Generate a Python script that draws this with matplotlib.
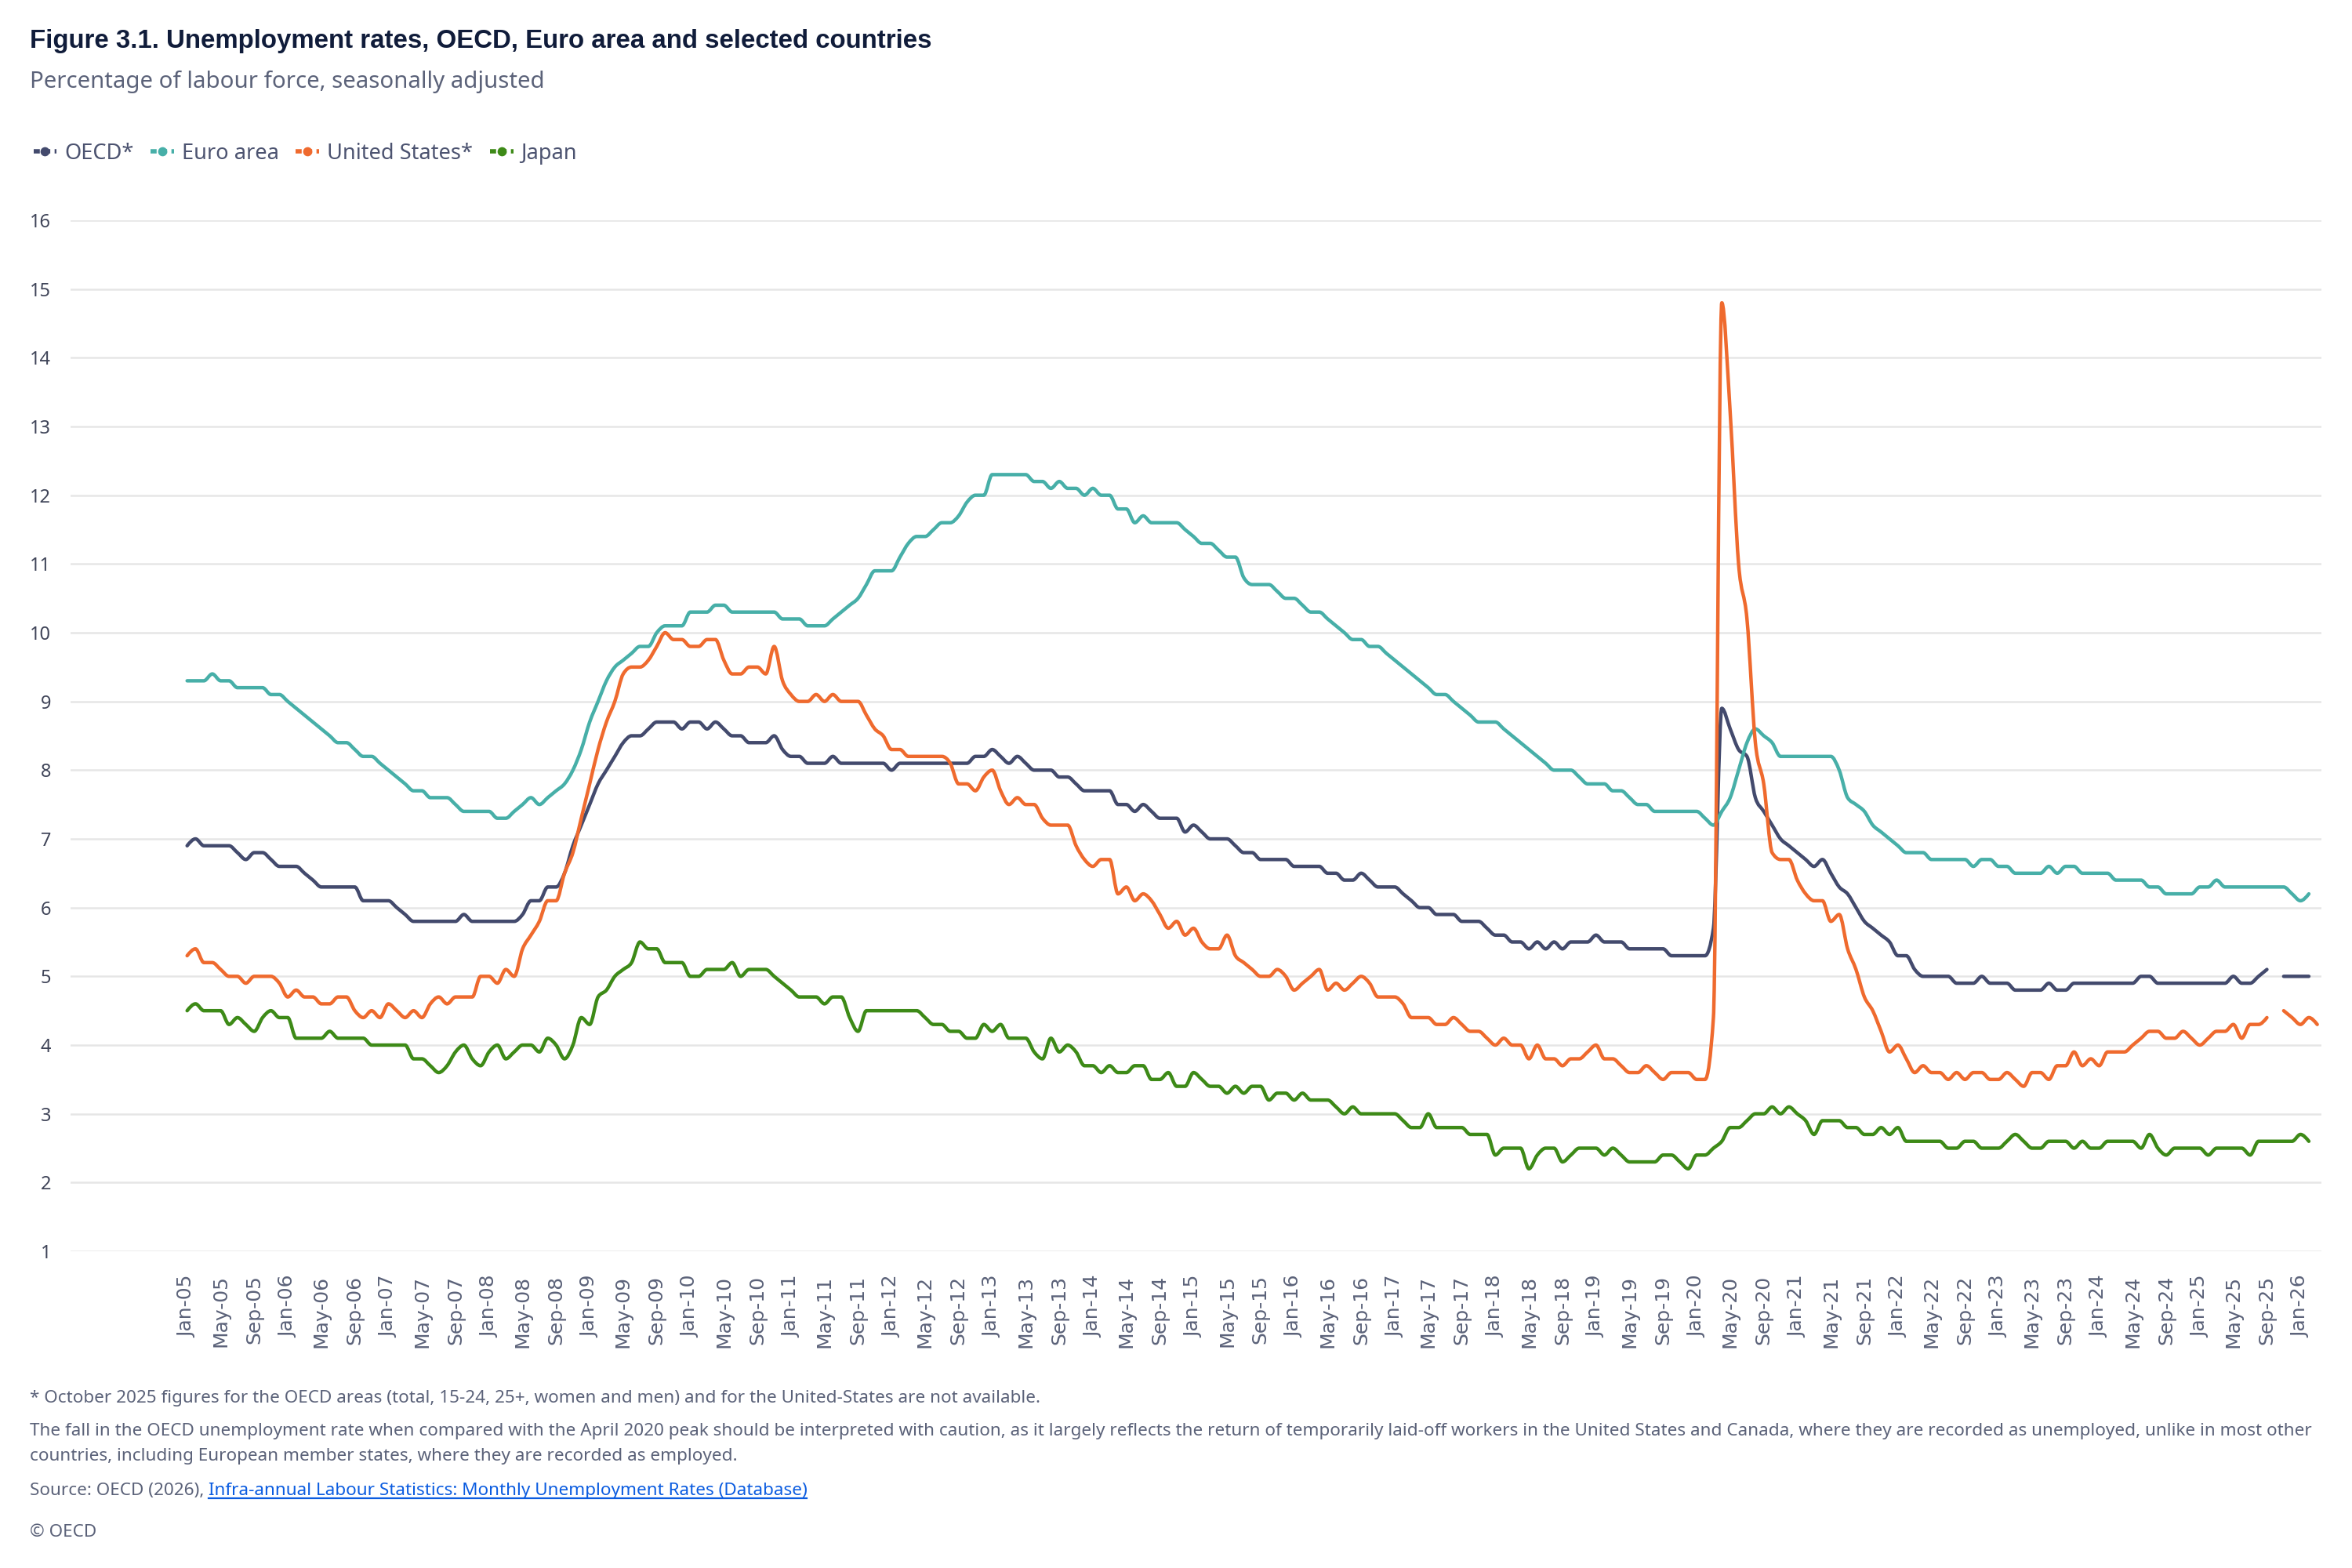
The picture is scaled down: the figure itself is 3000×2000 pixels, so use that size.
import numpy as np
import pandas as pd
import matplotlib
matplotlib.use("Agg")
import matplotlib.pyplot as plt
from matplotlib.lines import Line2D
from matplotlib.path import Path
from matplotlib.patches import PathPatch

nan = np.nan

# monthly categories, Jan-05 .. Mar-26
months = pd.date_range("2005-01-01", "2026-03-01", freq="MS")
month_labels = [d.strftime("%b-%y") for d in months]

# unemployment rates, % of labour force (one row per year)
oecd = [
    6.9, 7.0, 6.9, 6.9, 6.9, 6.9, 6.8, 6.7, 6.8, 6.8, 6.7, 6.6,
    6.6, 6.6, 6.5, 6.4, 6.3, 6.3, 6.3, 6.3, 6.3, 6.1, 6.1, 6.1,
    6.1, 6.0, 5.9, 5.8, 5.8, 5.8, 5.8, 5.8, 5.8, 5.9, 5.8, 5.8,
    5.8, 5.8, 5.8, 5.8, 5.9, 6.1, 6.1, 6.3, 6.3, 6.5, 6.9, 7.2,
    7.5, 7.8, 8.0, 8.2, 8.4, 8.5, 8.5, 8.6, 8.7, 8.7, 8.7, 8.6,
    8.7, 8.7, 8.6, 8.7, 8.6, 8.5, 8.5, 8.4, 8.4, 8.4, 8.5, 8.3,
    8.2, 8.2, 8.1, 8.1, 8.1, 8.2, 8.1, 8.1, 8.1, 8.1, 8.1, 8.1,
    8.0, 8.1, 8.1, 8.1, 8.1, 8.1, 8.1, 8.1, 8.1, 8.1, 8.2, 8.2,
    8.3, 8.2, 8.1, 8.2, 8.1, 8.0, 8.0, 8.0, 7.9, 7.9, 7.8, 7.7,
    7.7, 7.7, 7.7, 7.5, 7.5, 7.4, 7.5, 7.4, 7.3, 7.3, 7.3, 7.1,
    7.2, 7.1, 7.0, 7.0, 7.0, 6.9, 6.8, 6.8, 6.7, 6.7, 6.7, 6.7,
    6.6, 6.6, 6.6, 6.6, 6.5, 6.5, 6.4, 6.4, 6.5, 6.4, 6.3, 6.3,
    6.3, 6.2, 6.1, 6.0, 6.0, 5.9, 5.9, 5.9, 5.8, 5.8, 5.8, 5.7,
    5.6, 5.6, 5.5, 5.5, 5.4, 5.5, 5.4, 5.5, 5.4, 5.5, 5.5, 5.5,
    5.6, 5.5, 5.5, 5.5, 5.4, 5.4, 5.4, 5.4, 5.4, 5.3, 5.3, 5.3,
    5.3, 5.3, 5.7, 8.9, 8.6, 8.3, 8.2, 7.6, 7.4, 7.2, 7.0, 6.9,
    6.8, 6.7, 6.6, 6.7, 6.5, 6.3, 6.2, 6.0, 5.8, 5.7, 5.6, 5.5,
    5.3, 5.3, 5.1, 5.0, 5.0, 5.0, 5.0, 4.9, 4.9, 4.9, 5.0, 4.9,
    4.9, 4.9, 4.8, 4.8, 4.8, 4.8, 4.9, 4.8, 4.8, 4.9, 4.9, 4.9,
    4.9, 4.9, 4.9, 4.9, 4.9, 5.0, 5.0, 4.9, 4.9, 4.9, 4.9, 4.9,
    4.9, 4.9, 4.9, 4.9, 5.0, 4.9, 4.9, 5.0, 5.1, nan, 5.0, 5.0,
    5.0, 5.0,
]

euro_area = [
    9.3, 9.3, 9.3, 9.4, 9.3, 9.3, 9.2, 9.2, 9.2, 9.2, 9.1, 9.1,
    9.0, 8.9, 8.8, 8.7, 8.6, 8.5, 8.4, 8.4, 8.3, 8.2, 8.2, 8.1,
    8.0, 7.9, 7.8, 7.7, 7.7, 7.6, 7.6, 7.6, 7.5, 7.4, 7.4, 7.4,
    7.4, 7.3, 7.3, 7.4, 7.5, 7.6, 7.5, 7.6, 7.7, 7.8, 8.0, 8.3,
    8.7, 9.0, 9.3, 9.5, 9.6, 9.7, 9.8, 9.8, 10.0, 10.1, 10.1, 10.1,
    10.3, 10.3, 10.3, 10.4, 10.4, 10.3, 10.3, 10.3, 10.3, 10.3, 10.3, 10.2,
    10.2, 10.2, 10.1, 10.1, 10.1, 10.2, 10.3, 10.4, 10.5, 10.7, 10.9, 10.9,
    10.9, 11.1, 11.3, 11.4, 11.4, 11.5, 11.6, 11.6, 11.7, 11.9, 12.0, 12.0,
    12.3, 12.3, 12.3, 12.3, 12.3, 12.2, 12.2, 12.1, 12.2, 12.1, 12.1, 12.0,
    12.1, 12.0, 12.0, 11.8, 11.8, 11.6, 11.7, 11.6, 11.6, 11.6, 11.6, 11.5,
    11.4, 11.3, 11.3, 11.2, 11.1, 11.1, 10.8, 10.7, 10.7, 10.7, 10.6, 10.5,
    10.5, 10.4, 10.3, 10.3, 10.2, 10.1, 10.0, 9.9, 9.9, 9.8, 9.8, 9.7,
    9.6, 9.5, 9.4, 9.3, 9.2, 9.1, 9.1, 9.0, 8.9, 8.8, 8.7, 8.7,
    8.7, 8.6, 8.5, 8.4, 8.3, 8.2, 8.1, 8.0, 8.0, 8.0, 7.9, 7.8,
    7.8, 7.8, 7.7, 7.7, 7.6, 7.5, 7.5, 7.4, 7.4, 7.4, 7.4, 7.4,
    7.4, 7.3, 7.2, 7.4, 7.6, 8.0, 8.4, 8.6, 8.5, 8.4, 8.2, 8.2,
    8.2, 8.2, 8.2, 8.2, 8.2, 8.0, 7.6, 7.5, 7.4, 7.2, 7.1, 7.0,
    6.9, 6.8, 6.8, 6.8, 6.7, 6.7, 6.7, 6.7, 6.7, 6.6, 6.7, 6.7,
    6.6, 6.6, 6.5, 6.5, 6.5, 6.5, 6.6, 6.5, 6.6, 6.6, 6.5, 6.5,
    6.5, 6.5, 6.4, 6.4, 6.4, 6.4, 6.3, 6.3, 6.2, 6.2, 6.2, 6.2,
    6.3, 6.3, 6.4, 6.3, 6.3, 6.3, 6.3, 6.3, 6.3, 6.3, 6.3, 6.2,
    6.1, 6.2,
]

united_states = [
    5.3, 5.4, 5.2, 5.2, 5.1, 5.0, 5.0, 4.9, 5.0, 5.0, 5.0, 4.9,
    4.7, 4.8, 4.7, 4.7, 4.6, 4.6, 4.7, 4.7, 4.5, 4.4, 4.5, 4.4,
    4.6, 4.5, 4.4, 4.5, 4.4, 4.6, 4.7, 4.6, 4.7, 4.7, 4.7, 5.0,
    5.0, 4.9, 5.1, 5.0, 5.4, 5.6, 5.8, 6.1, 6.1, 6.5, 6.8, 7.3,
    7.8, 8.3, 8.7, 9.0, 9.4, 9.5, 9.5, 9.6, 9.8, 10.0, 9.9, 9.9,
    9.8, 9.8, 9.9, 9.9, 9.6, 9.4, 9.4, 9.5, 9.5, 9.4, 9.8, 9.3,
    9.1, 9.0, 9.0, 9.1, 9.0, 9.1, 9.0, 9.0, 9.0, 8.8, 8.6, 8.5,
    8.3, 8.3, 8.2, 8.2, 8.2, 8.2, 8.2, 8.1, 7.8, 7.8, 7.7, 7.9,
    8.0, 7.7, 7.5, 7.6, 7.5, 7.5, 7.3, 7.2, 7.2, 7.2, 6.9, 6.7,
    6.6, 6.7, 6.7, 6.2, 6.3, 6.1, 6.2, 6.1, 5.9, 5.7, 5.8, 5.6,
    5.7, 5.5, 5.4, 5.4, 5.6, 5.3, 5.2, 5.1, 5.0, 5.0, 5.1, 5.0,
    4.8, 4.9, 5.0, 5.1, 4.8, 4.9, 4.8, 4.9, 5.0, 4.9, 4.7, 4.7,
    4.7, 4.6, 4.4, 4.4, 4.4, 4.3, 4.3, 4.4, 4.3, 4.2, 4.2, 4.1,
    4.0, 4.1, 4.0, 4.0, 3.8, 4.0, 3.8, 3.8, 3.7, 3.8, 3.8, 3.9,
    4.0, 3.8, 3.8, 3.7, 3.6, 3.6, 3.7, 3.6, 3.5, 3.6, 3.6, 3.6,
    3.5, 3.5, 4.4, 14.8, 13.2, 11.0, 10.2, 8.4, 7.8, 6.8, 6.7, 6.7,
    6.4, 6.2, 6.1, 6.1, 5.8, 5.9, 5.4, 5.1, 4.7, 4.5, 4.2, 3.9,
    4.0, 3.8, 3.6, 3.7, 3.6, 3.6, 3.5, 3.6, 3.5, 3.6, 3.6, 3.5,
    3.5, 3.6, 3.5, 3.4, 3.6, 3.6, 3.5, 3.7, 3.7, 3.9, 3.7, 3.8,
    3.7, 3.9, 3.9, 3.9, 4.0, 4.1, 4.2, 4.2, 4.1, 4.1, 4.2, 4.1,
    4.0, 4.1, 4.2, 4.2, 4.3, 4.1, 4.3, 4.3, 4.4, nan, 4.5, 4.4,
    4.3, 4.4, 4.3,
]

japan = [
    4.5, 4.6, 4.5, 4.5, 4.5, 4.3, 4.4, 4.3, 4.2, 4.4, 4.5, 4.4,
    4.4, 4.1, 4.1, 4.1, 4.1, 4.2, 4.1, 4.1, 4.1, 4.1, 4.0, 4.0,
    4.0, 4.0, 4.0, 3.8, 3.8, 3.7, 3.6, 3.7, 3.9, 4.0, 3.8, 3.7,
    3.9, 4.0, 3.8, 3.9, 4.0, 4.0, 3.9, 4.1, 4.0, 3.8, 4.0, 4.4,
    4.3, 4.7, 4.8, 5.0, 5.1, 5.2, 5.5, 5.4, 5.4, 5.2, 5.2, 5.2,
    5.0, 5.0, 5.1, 5.1, 5.1, 5.2, 5.0, 5.1, 5.1, 5.1, 5.0, 4.9,
    4.8, 4.7, 4.7, 4.7, 4.6, 4.7, 4.7, 4.4, 4.2, 4.5, 4.5, 4.5,
    4.5, 4.5, 4.5, 4.5, 4.4, 4.3, 4.3, 4.2, 4.2, 4.1, 4.1, 4.3,
    4.2, 4.3, 4.1, 4.1, 4.1, 3.9, 3.8, 4.1, 3.9, 4.0, 3.9, 3.7,
    3.7, 3.6, 3.7, 3.6, 3.6, 3.7, 3.7, 3.5, 3.5, 3.6, 3.4, 3.4,
    3.6, 3.5, 3.4, 3.4, 3.3, 3.4, 3.3, 3.4, 3.4, 3.2, 3.3, 3.3,
    3.2, 3.3, 3.2, 3.2, 3.2, 3.1, 3.0, 3.1, 3.0, 3.0, 3.0, 3.0,
    3.0, 2.9, 2.8, 2.8, 3.0, 2.8, 2.8, 2.8, 2.8, 2.7, 2.7, 2.7,
    2.4, 2.5, 2.5, 2.5, 2.2, 2.4, 2.5, 2.5, 2.3, 2.4, 2.5, 2.5,
    2.5, 2.4, 2.5, 2.4, 2.3, 2.3, 2.3, 2.3, 2.4, 2.4, 2.3, 2.2,
    2.4, 2.4, 2.5, 2.6, 2.8, 2.8, 2.9, 3.0, 3.0, 3.1, 3.0, 3.1,
    3.0, 2.9, 2.7, 2.9, 2.9, 2.9, 2.8, 2.8, 2.7, 2.7, 2.8, 2.7,
    2.8, 2.6, 2.6, 2.6, 2.6, 2.6, 2.5, 2.5, 2.6, 2.6, 2.5, 2.5,
    2.5, 2.6, 2.7, 2.6, 2.5, 2.5, 2.6, 2.6, 2.6, 2.5, 2.6, 2.5,
    2.5, 2.6, 2.6, 2.6, 2.6, 2.5, 2.7, 2.5, 2.4, 2.5, 2.5, 2.5,
    2.5, 2.4, 2.5, 2.5, 2.5, 2.5, 2.4, 2.6, 2.6, 2.6, 2.6, 2.6,
    2.7, 2.6,
]

series = [
    ("OECD*", oecd, "#434a6d"),
    ("Euro area", euro_area, "#47afa8"),
    ("United States*", united_states, "#ef6a2e"),
    ("Japan", japan, "#3d8a17"),
]

TEXT = "#5b6279"
NOTO = ["Noto Sans", "DejaVu Sans"]


def monotone_path(x, y):
    # monotone-x cubic path through the points (as the web chart draws them)
    n = len(x)
    if n == 1:
        return Path([(x[0], y[0])], [Path.MOVETO])
    s = np.diff(y) / np.diff(x)
    t = np.zeros(n)
    for i in range(1, n - 1):
        s0, s1 = s[i - 1], s[i]
        t[i] = (np.sign(s0) + np.sign(s1)) * min(abs(s0), abs(s1), 0.5 * abs((s0 + s1) / 2))
    t[0] = (3 * s[0] - t[1]) / 2 if n > 2 else s[0]
    t[-1] = (3 * s[-1] - t[-2]) / 2 if n > 2 else s[-1]
    verts = [(x[0], y[0])]
    codes = [Path.MOVETO]
    for i in range(n - 1):
        h = (x[i + 1] - x[i]) / 3
        verts += [(x[i] + h, y[i] + h * t[i]),
                  (x[i + 1] - h, y[i + 1] - h * t[i + 1]),
                  (x[i + 1], y[i + 1])]
        codes += [Path.CURVE4] * 3
    return Path(verts, codes)


fig = plt.figure(figsize=(15, 10), dpi=200)
ax = fig.add_axes([0.030, 0.202, 0.957, 0.6575])

for name, vals, col in series:
    v = np.array(vals, dtype=float)
    xs = np.arange(len(v))
    ok = ~np.isnan(v)
    # split at missing months
    breaks = np.where(np.diff(ok.astype(int)) != 0)[0] + 1
    for seg in np.split(np.arange(len(v)), breaks):
        if ok[seg[0]]:
            ax.add_patch(PathPatch(monotone_path(xs[seg], v[seg]), fill=False,
                                   edgecolor=col, lw=1.6, joinstyle="round",
                                   capstyle="round"))

ax.set_xlim(-13.9, 254.5)
ax.set_ylim(1, 16)
ax.set_yticks(range(1, 17))
ax.grid(axis="y", color="#e6e6e6", lw=0.9)
ax.set_axisbelow(True)
for s in ax.spines.values():
    s.set_visible(False)
ax.tick_params(length=0)
ax.tick_params(axis="y", pad=9)
ax.tick_params(axis="x", pad=11)

for t in ax.get_yticklabels():
    t.set_fontfamily(NOTO)
    t.set_fontsize(8.5)
    t.set_color("#3f4458")

tick_pos = list(range(0, len(month_labels), 4))
ax.set_xticks(tick_pos)
ax.set_xticklabels([month_labels[i] for i in tick_pos], rotation=90,
                   fontsize=9, color=TEXT, family="DejaVu Sans")

# titles
fig.text(0.0127, 0.974, "Figure 3.1. Unemployment rates, OECD, Euro area and selected countries",
         family=["Liberation Sans", "DejaVu Sans"], weight="bold", fontsize=11.9,
         color="#101c3a", va="center")
fig.text(0.0127, 0.948, "Percentage of labour force, seasonally adjusted",
         family=NOTO, fontsize=10.6, color=TEXT, va="center")

# legend
handles = [Line2D([], [], color=c, lw=2, ls=(0, (1.4, 1.0)), marker="o", ms=3.2)
           for _, _, c in series]
fig.legend(handles, [n for n, _, _ in series], loc="center left",
           bbox_to_anchor=(0.006, 0.902), ncol=4, frameon=False,
           handlelength=1.1, handletextpad=0.35, columnspacing=0.8,
           prop={"family": NOTO, "size": 9.8}, labelcolor="#4c5370")

# notes
FN = 8.1
notes = [
    (0.1085, "* October 2025 figures for the OECD areas (total, 15-24, 25+, women and men) and for the United-States are not available."),
    (0.0875, "The fall in the OECD unemployment rate when compared with the April 2020 peak should be interpreted with caution, as it largely reflects the return of temporarily laid-off workers in the United States and Canada, where they are recorded as unemployed, unlike in most other"),
    (0.071, "countries, including European member states, where they are recorded as employed."),
    (0.0225, "\u00a9 OECD"),
]
for y, txt in notes:
    fig.text(0.0127, y, txt, family=NOTO, fontsize=FN, color=TEXT, va="center")

src = fig.text(0.0127, 0.0495, "Source: OECD (2026),", family=NOTO, fontsize=FN,
               color=TEXT, va="center")
fig.canvas.draw()
r = fig.canvas.get_renderer()
bb = src.get_window_extent(r)
x_link = bb.x1 / fig.bbox.width + 0.0017
link = fig.text(x_link, 0.0495, "Infra-annual Labour Statistics: Monthly Unemployment Rates (Database)",
                family=NOTO, fontsize=FN, color="#0b5ce0", va="center")
lb = link.get_window_extent(r)
y_ul = lb.y0 / fig.bbox.height + 0.0005
fig.add_artist(Line2D([lb.x0 / fig.bbox.width, lb.x1 / fig.bbox.width], [y_ul, y_ul],
                      transform=fig.transFigure, color="#0b5ce0", lw=0.8))

fig.savefig("out.png", dpi=200, facecolor="white")
